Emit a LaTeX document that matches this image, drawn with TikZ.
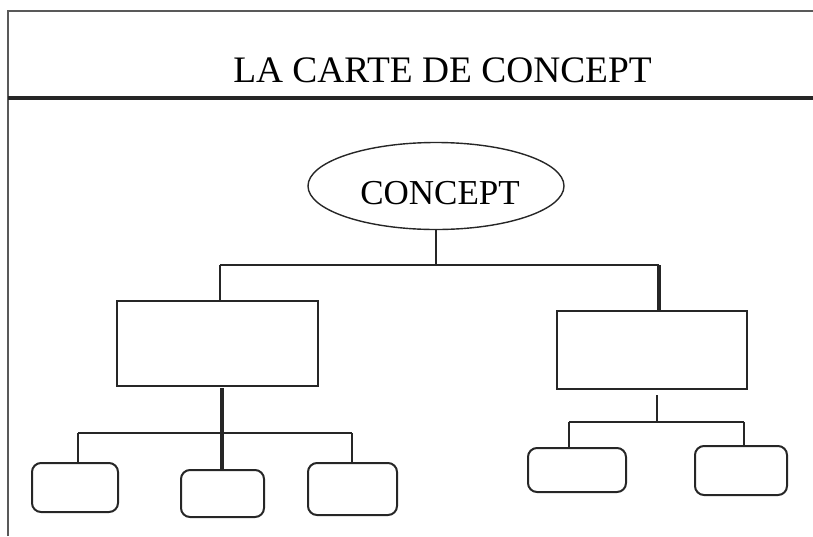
\documentclass[tikz,border=0pt]{standalone}
\usepackage{fontspec}
\setmainfont{Liberation Serif}
\usetikzlibrary{shapes.geometric}
\begin{document}
\begin{tikzpicture}[x=1pt,y=-1pt,
  frameline/.style={draw=black!65, line width=1.3pt},
  rule/.style={draw=black!85, line width=4pt},
  box/.style={draw=black!85, line width=2pt, rectangle, inner sep=0pt},
  leaf/.style={draw=black!85, line width=2pt, rectangle, rounded corners=9pt, inner sep=0pt},
  link/.style={draw=black!85, line width=2.6pt},
  stem/.style={draw=black!85, line width=3.8pt}]
\useasboundingbox (0,0) rectangle (813,536);

% page frame and title band
\draw[frameline] (8,536) -- (8,11) -- (813,11);
\node[anchor=base, inner sep=0pt, font=\fontsize{37.4}{40}\selectfont] (title) at (442.5,82) {LA CARTE DE CONCEPT};
\draw[rule] (8,98) -- (813,98);

% root concept
\node[draw=black!85, line width=1.4pt, ellipse, minimum width=256pt, minimum height=87pt, inner sep=0pt] (concept) at (436,186) {};
\node[anchor=base, inner sep=0pt, font=\fontsize{35}{38}\selectfont] (conceptlbl) at (440,204) {CONCEPT};

% second level
\node[box, minimum width=201pt, minimum height=85pt] (L) at (217.5,343.5) {};
\node[box, minimum width=190pt, minimum height=78pt] (R) at (652,350) {};

% third level
\node[leaf, minimum width=86pt, minimum height=49pt] (a) at (75,487.5) {};
\node[leaf, minimum width=83pt, minimum height=47pt] (b) at (222.5,493.5) {};
\node[leaf, minimum width=89pt, minimum height=52pt] (c) at (352.5,489) {};
\node[leaf, minimum width=98pt, minimum height=44pt] (d) at (577,470) {};
\node[leaf, minimum width=92pt, minimum height=49pt] (e) at (741,470.5) {};

% junctions
\coordinate (j0) at (436,265);
\coordinate (jL) at (220,265);
\coordinate (jR) at (659,265);
\coordinate (k0) at (222,433);
\coordinate (kL) at (78,433);
\coordinate (kR) at (352,433);
\coordinate (m0) at (657,422);
\coordinate (mL) at (569,422);
\coordinate (mR) at (744,422);

% root to second level
\draw[link] (concept.south) -- (j0);
\draw[link] (jL) -- (jR);
\draw[link] (jL) -- (jL |- L.north);
\draw[stem] (jR) -- (jR |- R.north);

% left subtree
\draw[stem] (k0 |- L.south) ++(0,1) -- (k0 |- b.north);
\draw[link] (kL) -- (kR);
\draw[link] (kL) -- (kL |- a.north);
\draw[link] (kR) -- (kR |- c.north);

% right subtree
\draw[link] (m0 |- R.south) ++(0,5) -- (m0);
\draw[link] (mL) -- (mR);
\draw[link] (mL) -- (mL |- d.north);
\draw[link] (mR) -- (mR |- e.north);
\end{tikzpicture}
\end{document}
